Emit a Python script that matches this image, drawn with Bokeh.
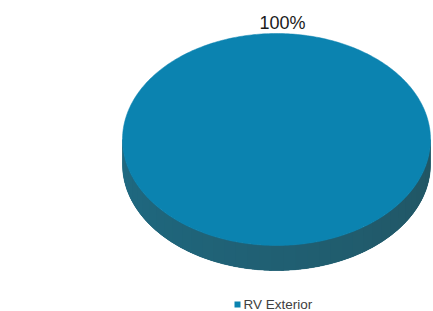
import numpy as np
from bokeh.plotting import figure
from bokeh.models import Range1d
from bokeh.core.properties import value
from bokeh.embed import file_html
from bokeh.resources import INLINE

# ---- data ----
categories = ["RV Exterior"]
values = [100]
labels = ["100%"]
colors_top = ["#0B83B0"]
colors_side = ["#1F6276"]

# ---- layout (window pixel coordinates) ----
W, H = 433, 311
cx, cy, rx, ry, depth = 276, 139, 154, 106, 25

p = figure(width=W, height=H, output_backend="svg", toolbar_location=None,
           x_range=Range1d(0, W), y_range=Range1d(H, 0),
           min_border=0, outline_line_color=None, background_fill_color="white")
p.axis.visible = False
p.grid.visible = False

total = float(sum(values))
starts = np.cumsum([0] + values[:-1]) / total * 2 * np.pi
ends = np.cumsum(values) / total * 2 * np.pi


def side_patch(t0, t1):
    tt = np.linspace(t0, t1, 40)
    xs_top = cx + rx * np.cos(tt)
    ys_top = cy + ry * np.sin(tt)
    xs = np.concatenate([xs_top, xs_top[::-1]])
    ys = np.concatenate([ys_top, ys_top[::-1] + depth])
    return xs, ys


# side of the 3D pie (front half), shaded darker to the right
for s, e, cs in zip(starts, ends, colors_side):
    a0, a1 = max(s, 0), min(e, np.pi)
    xs, ys = side_patch(a0, a1)
    p.patch(xs, ys, fill_color=cs, line_color=cs, line_width=0.5)
    strips = 40
    edges = np.linspace(a0, a1, strips + 1)
    ov = (a1 - a0) / strips * 0.6
    for i in range(strips):
        xs, ys = side_patch(max(a0, edges[i] - ov), min(a1, edges[i + 1] + ov))
        f = i / (strips - 1)
        base = np.array([0x22, 0x55, 0x63]) * (1 - f) + np.array([0x1F, 0x6A, 0x82]) * f
        col = "#%02x%02x%02x" % tuple(int(v) for v in base)
        p.patch(xs, ys, fill_color=col, line_color=None)

# top face
for s, e, ct in zip(starts, ends, colors_top):
    t = np.linspace(s, e, 400)
    xs = cx + rx * np.cos(t)
    ys = cy + ry * np.sin(t)
    if e - s < 2 * np.pi - 1e-9:
        xs = np.concatenate([[cx], xs])
        ys = np.concatenate([[cy], ys])
    p.patch(xs, ys, fill_color=ct, line_color=ct, line_width=0.5)

# data label
p.text(x=[cx + 6], y=[32], text=labels, text_align="center",
       text_baseline="bottom", text_font=value("Liberation Sans"),
       text_font_size="18px", text_color="#1a1a1a")

# legend
lx, ly = 237, 304
p.scatter(x=[lx], y=[ly], marker="square", size=6, fill_color=colors_top[0],
          line_color=None)
p.text(x=[lx + 6], y=[ly], text=categories, text_align="left",
       text_baseline="middle", text_font=value("Liberation Sans"),
       text_font_size="13.5px", text_color="#404040")

open("out.html", "w").write(file_html(p, INLINE))
